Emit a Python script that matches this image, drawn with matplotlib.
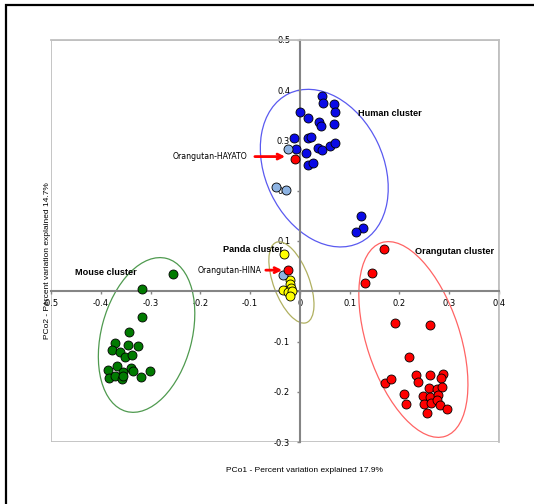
import matplotlib
matplotlib.use('Agg')
import matplotlib.pyplot as plt
from matplotlib.patches import Ellipse, Rectangle

# PCoA scores (PCo1, PCo2)
human_x = [0.044, 0.047, 0.068, 0.070, 0.001, 0.017, 0.039, 0.042, 0.068, -0.012, 0.017, 0.022,
           0.037, 0.044, 0.060, 0.070, -0.007, 0.012, 0.016, 0.027, 0.123, 0.126, 0.112]
human_y = [0.388, 0.375, 0.372, 0.357, 0.357, 0.344, 0.336, 0.329, 0.332, 0.304, 0.304, 0.307,
           0.285, 0.281, 0.289, 0.295, 0.283, 0.276, 0.251, 0.256, 0.150, 0.126, 0.118]

lightblue_x = [-0.024, -0.048, -0.028, -0.034]
lightblue_y = [0.284, 0.208, 0.201, 0.033]

# Orangutan-HAYATO, Orangutan-HINA
odd_x = [-0.010, -0.024]
odd_y = [0.264, 0.042]

panda_x = [-0.031, -0.020, -0.019, -0.018, -0.033, -0.023, -0.016, -0.020]
panda_y = [0.074, 0.022, 0.015, 0.007, 0.002, -0.002, 0.001, -0.010]

mouse_x = [-0.254, -0.317, -0.317, -0.344, -0.371, -0.346, -0.326, -0.378, -0.362, -0.351, -0.337,
           -0.385, -0.368, -0.356, -0.339, -0.336, -0.302, -0.384, -0.371, -0.358, -0.356, -0.319]
mouse_y = [0.034, 0.004, -0.052, -0.081, -0.103, -0.106, -0.108, -0.117, -0.121, -0.131, -0.126,
           -0.157, -0.149, -0.161, -0.153, -0.159, -0.159, -0.173, -0.169, -0.174, -0.169, -0.171]

orang_x = [0.169, 0.145, 0.131, 0.191, 0.261, 0.219, 0.171, 0.183, 0.234, 0.238, 0.261, 0.287,
           0.283, 0.210, 0.213, 0.260, 0.275, 0.285, 0.248, 0.261, 0.278, 0.249, 0.263, 0.276,
           0.281, 0.256, 0.295]
orang_y = [0.085, 0.036, 0.017, -0.064, -0.067, -0.131, -0.182, -0.175, -0.167, -0.180, -0.166,
           -0.164, -0.172, -0.204, -0.224, -0.192, -0.194, -0.190, -0.209, -0.210, -0.206, -0.224,
           -0.222, -0.216, -0.227, -0.242, -0.235]

# cluster ellipses: centre x, centre y, width, height, angle
ellipses = [
    (0.049, 0.245, 0.329, 0.237, -64.2, '#5a5af0'),
    (-0.308, -0.087, 0.315, 0.182, 75.0, '#4f9a4f'),
    (0.228, -0.096, 0.406, 0.187, -71.5, '#ff6464'),
    (-0.017, 0.0175, 0.171, 0.072, -69.2, '#b0b060'),
]

xticks = [-0.5, -0.4, -0.3, -0.2, -0.1, 0, 0.1, 0.2, 0.3, 0.4]
yticks = [-0.3, -0.2, -0.1, 0, 0.1, 0.2, 0.3, 0.4, 0.5]

fig = plt.figure(figsize=(5.34, 5.04), dpi=100)
ax = fig.add_axes([51 / 534, 1 - 442 / 504, 448 / 534, 402 / 504])
ax.set_xlim(-0.5, 0.4)
ax.set_ylim(-0.3, 0.5)

# Excel style: axis lines through the origin, light grey plot frame
for s in ['left', 'bottom']:
    ax.spines[s].set_position(('data', 0))
    ax.spines[s].set_color('#858585')
    ax.spines[s].set_linewidth(1.5)
for s in ['top', 'right']:
    ax.spines[s].set_color('#c0c0c0')
    ax.spines[s].set_linewidth(1.3)
ax.add_patch(Rectangle((0, 0), 1, 1, transform=ax.transAxes, fill=False,
                       edgecolor='#c0c0c0', linewidth=1.3, zorder=0))

ax.set_xticks(xticks)
ax.set_yticks(yticks)
ax.set_xticklabels(['%g' % t for t in xticks])
ax.set_yticklabels(['%g' % t for t in yticks])
ax.tick_params(axis='both', colors='#858585', labelcolor='black', labelsize=6,
               length=2, width=1)
ax.tick_params(axis='x', pad=3.5)
ax.tick_params(axis='y', pad=5)

for cx, cy, w, h, ang, col in ellipses:
    ax.add_patch(Ellipse((cx, cy), w, h, angle=ang, fill=False, edgecolor=col,
                         linewidth=0.9, zorder=2))

kw = dict(s=42, edgecolors='black', linewidths=0.6, zorder=3)
ax.scatter(human_x, human_y, c='#0a0ae6', **kw)
ax.scatter(mouse_x, mouse_y, c='#007a00', **kw)
ax.scatter(orang_x, orang_y, c='#ff0000', **kw)
ax.scatter(panda_x, panda_y, c='#ffff00', **kw)
ax.scatter(lightblue_x, lightblue_y, c='#8db3e2', **kw)
ax.scatter(odd_x, odd_y, c='#ff0000', **kw)

bold = dict(fontsize=6.6, fontweight='bold', family='Liberation Sans', va='center')
ax.text(0.1165, 0.354, 'Human cluster', **bold)
ax.text(0.2306, 0.080, 'Orangutan cluster', **bold)
ax.text(-0.1547, 0.083, 'Panda cluster', **bold)
ax.text(-0.452, 0.0365, 'Mouse cluster', **bold)

arrow = dict(arrowstyle='->', color='#ff0000', lw=2, mutation_scale=9)
ax.annotate('', xy=(-0.024, 0.268), xytext=(-0.096, 0.268), arrowprops=arrow, zorder=4)
ax.annotate('', xy=(-0.030, 0.042), xytext=(-0.074, 0.042), arrowprops=arrow, zorder=4)
ax.text(-0.105, 0.268, 'Orangutan-HAYATO', fontsize=5.6, ha='right', va='center')
ax.text(-0.077, 0.042, 'Orangutan-HINA', fontsize=5.6, ha='right', va='center')

fig.text(304.6 / 534, 1 - 471 / 504, 'PCo1 - Percent variation explained 17.9%',
         fontsize=6, family='Liberation Sans', ha='center', va='center')
fig.text(47.5 / 534, 1 - 261 / 504, 'PCo2 - Percent variation explained 14.7%',
         fontsize=6, family='Liberation Sans', ha='center', va='center', rotation=90)

# black outer frame, only its left and top edges show
fig.add_artist(Rectangle((6 / 534, -0.1), 1.2, 1 - 5 / 504 + 0.1, transform=fig.transFigure,
                         fill=False, edgecolor='black', linewidth=1.6))

fig.savefig('out.png', dpi=100)
